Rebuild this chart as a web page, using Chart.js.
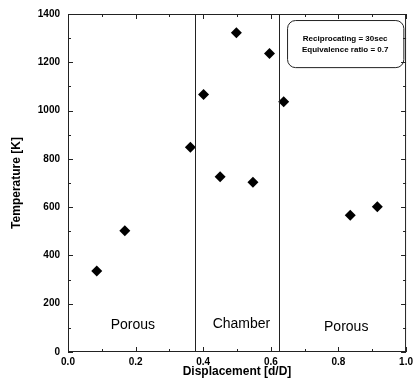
<!DOCTYPE html>
<html><head><meta charset="utf-8">
<script src="https://cdn.jsdelivr.net/npm/chart.js@4"></script>
<style>html,body{margin:0;padding:0;background:#fff}#c{display:block}</style>
</head><body>
<canvas id="c" width="417" height="384"></canvas>
<script>
const displacement = [0.085, 0.168, 0.362, 0.401, 0.450, 0.498, 0.547, 0.596, 0.638, 0.835, 0.915];
const temperature = [335, 502, 848, 1067, 726, 1322, 703, 1236, 1037, 566, 602];
const xTicks = [0.0, 0.2, 0.4, 0.6, 0.8, 1.0];
const yTicks = [0, 200, 400, 600, 800, 1000, 1200, 1400];
const boundaries = [0.375, 0.625];
const regionLabels = [["Porous", 0.192, 111], ["Chamber", 0.513, 116], ["Porous", 0.823, 103]];
const legendLines = ["Reciprocating = 30sec", "Equivalence ratio = 0.7"];

const FONT = "'Liberation Sans', Arial, sans-serif";

const deco = {
  id: 'deco',
  afterDraw(chart) {
    const {ctx, chartArea: a, scales: {x, y}} = chart;
    ctx.save();
    ctx.strokeStyle = '#222';
    ctx.lineWidth = 1;
    ctx.strokeRect(a.left + 0.5, a.top + 0.5, a.right - a.left - 1, a.bottom - a.top - 1);
    ctx.beginPath();
    for (let i = 0; i <= 10; i++) {
      const v = i / 10;
      const px = Math.round(x.getPixelForValue(v)) + 0.5;
      const L = (i % 2 === 0) ? 5 : 3;
      ctx.moveTo(px, a.bottom); ctx.lineTo(px, a.bottom - L);
      ctx.moveTo(px, a.top); ctx.lineTo(px, a.top + L);
    }
    for (let v = 0; v <= 1400; v += 100) {
      const py = Math.round(y.getPixelForValue(v)) + 0.5;
      const L = (v % 200 === 0) ? 5 : 3;
      ctx.moveTo(a.left, py); ctx.lineTo(a.left + L, py);
      ctx.moveTo(a.right, py); ctx.lineTo(a.right - L, py);
    }
    ctx.stroke();
    ctx.beginPath();
    boundaries.forEach(b => {
      const px = Math.round(x.getPixelForValue(b)) + 0.5;
      ctx.moveTo(px, a.top); ctx.lineTo(px, a.bottom);
    });
    ctx.stroke();
    ctx.fillStyle = '#000';
    ctx.font = '14px ' + FONT;
    ctx.textAlign = 'center';
    ctx.textBaseline = 'middle';
    regionLabels.forEach(([t, xv, yv]) => {
      ctx.fillText(t, x.getPixelForValue(xv), y.getPixelForValue(yv));
    });
    const bx = x.getPixelForValue(0.648), by = y.getPixelForValue(1375);
    const bx2 = x.getPixelForValue(0.992), by2 = y.getPixelForValue(1180);
    ctx.beginPath();
    ctx.roundRect(bx + 0.5, by + 0.5, bx2 - bx, by2 - by, 8);
    ctx.stroke();
    ctx.font = 'bold 8px ' + FONT;
    const cx = (bx + bx2) / 2;
    ctx.fillText(legendLines[0], cx, by + 19);
    ctx.fillText(legendLines[1], cx, by + 30);
    ctx.restore();
  }
};

new Chart(document.getElementById('c'), {
  type: 'scatter',
  data: { datasets: [{
    data: displacement.map((d, i) => ({x: d, y: temperature[i]})),
    pointStyle: 'rectRot', pointRadius: 5.5, pointHoverRadius: 5.5,
    backgroundColor: '#000', borderColor: '#000', borderWidth: 0
  }]},
  options: {
    responsive: false, animation: false,
    layout: { padding: { top: 13, right: 10, left: 0, bottom: 0 } },
    plugins: { legend: { display: false }, tooltip: { enabled: false } },
    scales: {
      x: {
        type: 'linear', min: 0, max: 1,
        afterBuildTicks: s => { s.ticks = xTicks.map(v => ({value: v})); },
        afterFit: s => { s.height = 32; },
        grid: { display: false, drawTicks: false }, border: { display: false },
        ticks: { color: '#000', font: { family: FONT, size: 10, weight: 'bold' }, padding: 4,
          callback: v => v.toFixed(1), maxRotation: 0, autoSkip: false },
        title: { display: true, text: 'Displacement [d/D]', color: '#000',
          font: { family: FONT, size: 12, weight: 'bold' }, padding: { top: 0, bottom: 5 } }
      },
      y: {
        type: 'linear', min: 0, max: 1400,
        afterBuildTicks: s => { s.ticks = yTicks.map(v => ({value: v})); },
        afterFit: s => { s.width = 68; },
        grid: { display: false, drawTicks: false }, border: { display: false },
        ticks: { color: '#000', font: { family: FONT, size: 10, weight: 'bold' }, padding: 8,
          callback: v => String(v), autoSkip: false },
        title: { display: true, text: 'Temperature [K]', color: '#000',
          font: { family: FONT, size: 12, weight: 'bold' }, padding: { top: 9, bottom: 0 } }
      }
    }
  },
  plugins: [deco]
});
</script>
</body></html>
